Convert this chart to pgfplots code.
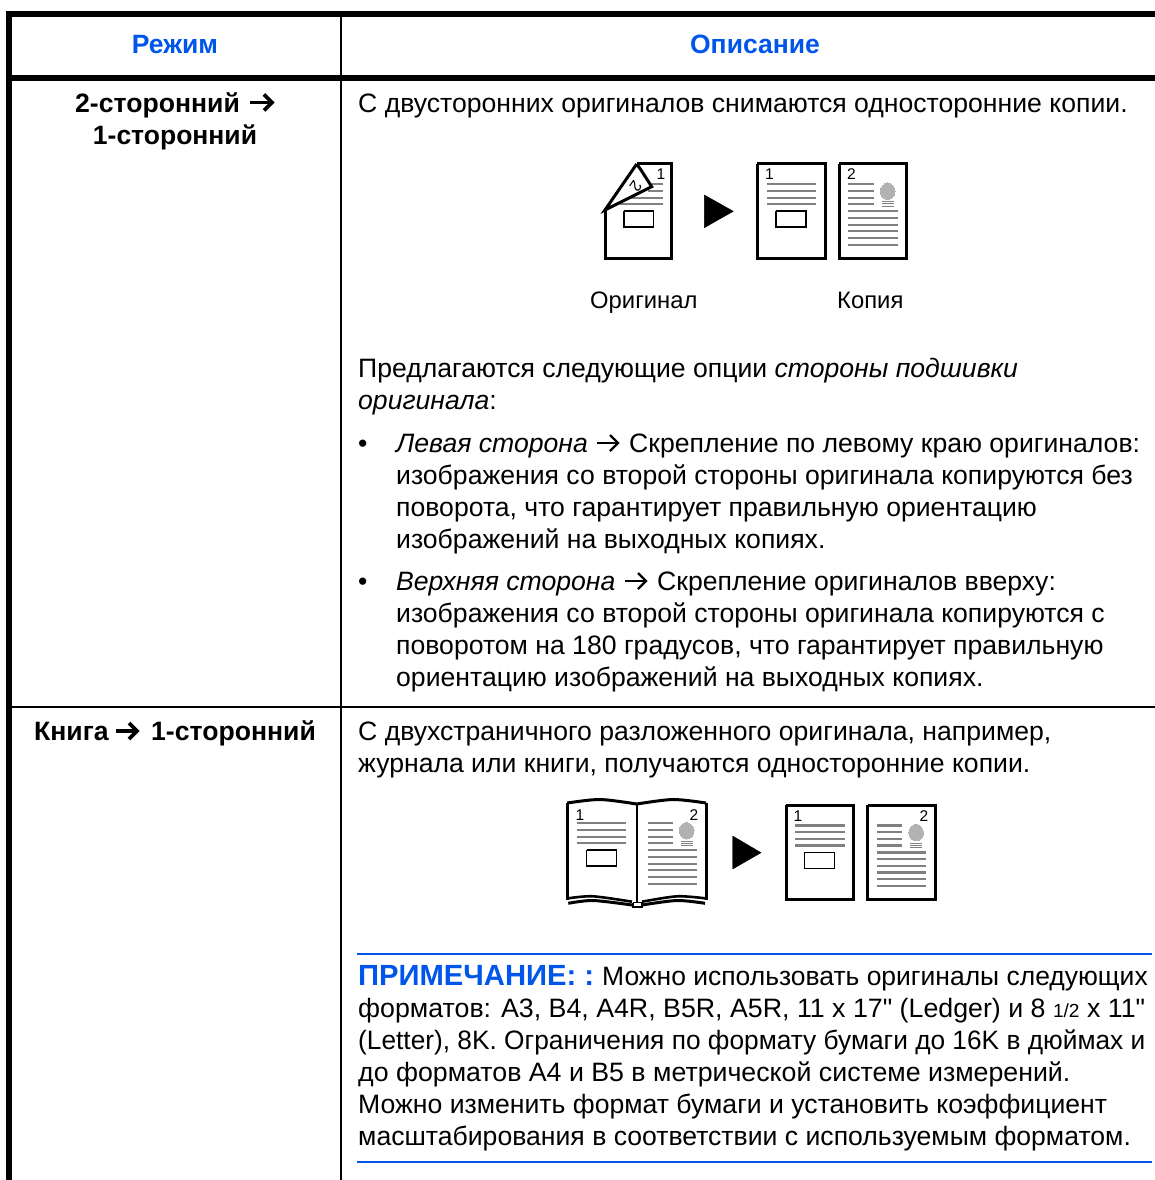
\documentclass[border=0pt]{standalone}
\usepackage{graphicx}
\usepackage{pgfplots}
\pgfplotsset{compat=1.18}
\usepackage{pgfplotstable}
\usepackage{fontspec}
\setmainfont{Liberation Sans}[Ligatures=TeXOff]
\definecolor{bl}{RGB}{0,85,235}
\definecolor{gl}{RGB}{128,128,128}
\definecolor{gf}{RGB}{178,178,178}
\newcommand{\Tx}[3]{\node[anchor=base west,inner sep=0pt,yshift=-0.7bp] at (axis cs:#1,#2) {\fontsize{26.6bp}{30bp}\selectfont #3};}
\newcommand{\Cx}[3]{\node[anchor=base,inner sep=0pt,yshift=-0.7bp] at (axis cs:#1,#2) {\fontsize{26.5bp}{30bp}\selectfont #3};}
\newcommand{\Sm}[3]{\node[anchor=base west,inner sep=0pt] at (axis cs:#1,#2) {\fontsize{23.8bp}{26bp}\selectfont #3};}
\newcommand{\Ic}[3]{\node[anchor=base west,inner sep=0pt] at (axis cs:#1,#2) {\fontsize{15.5bp}{18bp}\selectfont #3};}
\pgfplotstableread{
x y
766.7 184.3
816 184.3
nan nan
766.7 191
816 191
nan nan
766.7 197.7
816 197.7
nan nan
766.7 204.3
816 204.3
}\linesA
\pgfplotstableread{
x y
848.3 184.3
874 184.3
nan nan
848.3 191
874 191
nan nan
848.3 197.7
874 197.7
nan nan
848.3 204.3
874 204.3
nan nan
848.3 211.3
897.7 211.3
nan nan
848.3 218
897.7 218
nan nan
848.3 224.7
897.7 224.7
nan nan
848.3 231.3
897.7 231.3
nan nan
848.3 238
897.7 238
nan nan
848.3 245
897.7 245
}\linesB
\pgfplotstableread{
x y
881.7 201.7
894 201.7
nan nan
881.7 204
894 204
nan nan
881.7 206.3
894 206.3
}\linesC
\pgfplotstableread{
x y
895 191.3
894.5 188.2
892.9 185.7
890.5 183.8
887.7 183
884.9 183.8
882.5 185.7
880.9 188.2
880.4 191.3
880.9 194.4
882.5 196.9
884.9 198.8
887.7 199.6
890.5 198.8
892.9 196.9
894.5 194.4
}\ell
\pgfplotstableread{
x y
757.3 164
825 164
825 258.3
757.3 258.3
757.3 164
}\pageA
\pgfplotstableread{
x y
839.3 164
906.7 164
906.7 258.3
839.3 258.3
839.3 164
}\pageB
\pgfplotstableread{
x y
776 211
806 211
806 227
776 227
776 211
}\boxA
\newcommand{\grp}[3]{\addplot[gl,line width=2.3bp,unbounded coords=jump] table[x expr=\thisrow{x}+#2,y expr=\thisrow{y}+#3]{#1};}
\newcommand{\Arr}[5]{%
\addplot[black,line width=#5bp] coordinates {(#1,#3)(#2-1,#3)};
\addplot[black,line width=#5bp,miter limit=3] coordinates {(#2-#4,#3-#4)(#2,#3)(#2-#4,#3+#4)};}
\begin{document}
\begin{tikzpicture}
\begin{axis}[scale only axis,width=1155bp,height=1180bp,xmin=0,xmax=1155,ymin=0,ymax=1180,y dir=reverse,hide axis,clip=true]
\addplot[white,line width=0.1pt,forget plot] coordinates {(0,0)(1155,0)(1155,1180)(0,1180)(0,0)};
\addplot[black,line width=6bp] coordinates {(9,1180)(9,14)(1155,14)};
\addplot[black,line width=6bp] coordinates {(9,78)(1155,78)};
\addplot[black,line width=2bp] coordinates {(341,14)(341,1180)};
\addplot[black,line width=2bp] coordinates {(9,707)(1155,707)};
\addplot[bl,line width=2bp] coordinates {(357,954)(1152,954)};
\addplot[bl,line width=2bp] coordinates {(357,1162)(1152,1162)};
% icon 1: original
\addplot[black,line width=3bp] coordinates {(605,210)(605,258.3)(671.7,258.3)(671.7,164)(636.7,164)};
\addplot[gl,line width=2.3bp] coordinates {(651.7,184.3)(663,184.3)};
\addplot[gl,line width=2.3bp] coordinates {(648,191)(663,191)};
\addplot[gl,line width=2.3bp] coordinates {(631,197.7)(663,197.7)};
\addplot[gl,line width=2.3bp] coordinates {(620,204.3)(663,204.3)};
\addplot[black,line width=3bp,fill=white] coordinates {(636.7,164)(605,210)(651.7,186.7)(641,170)(636.7,164)};
\addplot[black,line width=1.2bp] coordinates {(624,211)(653.3,211)(653.3,227)(624,227)(624,211)};
\addplot[black,fill=black,line width=0.4bp] coordinates {(704.3,195)(733.3,211.3)(704.3,227.7)(704.3,195)};
\node[rotate=-125,inner sep=0pt] at (axis cs:636,186) {\fontsize{16bp}{18bp}\selectfont 2};
\Ic{656.5}{180}{1}
% copies row 1
\addplot[black,line width=3bp] table[x=x,y=y]{\pageA};
\grp{\linesA}{0}{0}
\addplot[black,line width=1.2bp] table[x=x,y=y]{\boxA};
\Ic{765}{180}{1}
\addplot[black,line width=3bp] table[x=x,y=y]{\pageB};
\grp{\linesB}{0}{0}
\addplot[gl,line width=1bp,unbounded coords=jump] table[x=x,y=y]{\linesC};
\addplot[gf,fill=gf,line width=0pt] table[x=x,y=y]{\ell} -- cycle;
\Ic{847}{180}{2}
% book
\addplot[black,line width=3bp] coordinates {(567.3,900)(567.3,803)};
\addplot[black,line width=3bp] coordinates {(706,900)(706,803)};
\addplot[black,line width=3bp,smooth] coordinates {(567.3,803)(600,799.5)(636.7,804)};
\addplot[black,line width=3bp,smooth] coordinates {(636.7,804)(673,799.5)(706,803)};
\addplot[black,line width=2bp] coordinates {(636.7,804)(636.7,902)};
\addplot[black,line width=2.6bp,smooth] coordinates {(568.3,898.3)(593,896.3)(632,901.7)};
\addplot[black,line width=2.6bp,smooth] coordinates {(642,901.7)(677,896.3)(705,898.3)};
\addplot[black,line width=3bp,smooth] coordinates {(568.3,903.3)(593,900.5)(632,905)};
\addplot[black,line width=3bp,smooth] coordinates {(642,905)(677,900.5)(705,903.3)};
\addplot[black,line width=1.6bp,fill=white] coordinates {(632.7,902.5)(641.7,902.5)(641.7,906.7)(632.7,906.7)(632.7,902.5)};
\addplot[black,line width=1.2bp] table[x expr=\thisrow{x}-189.3,y expr=\thisrow{y}+639]{\boxA};
\grp{\linesA}{-190}{639}
\grp{\linesB}{-200.6}{639}
\addplot[gl,line width=1bp,unbounded coords=jump] table[x expr=\thisrow{x}-201,y expr=\thisrow{y}+639.5]{\linesC};
\addplot[gf,fill=gf,line width=0pt] table[x expr=\thisrow{x}-201,y expr=\thisrow{y}+639.4]{\ell} -- cycle;
\Ic{575.5}{820}{1}
\Ic{689.5}{820}{2}
\addplot[black,fill=black,line width=0.4bp] coordinates {(732.7,836)(761,852.7)(732.7,869)(732.7,836)};
% copies row 2
\addplot[black,line width=3bp] table[x expr=\thisrow{x}+28.7,y expr=\thisrow{y}+641]{\pageA};
\grp{\linesA}{28.7}{641.3}
\addplot[black,line width=1.2bp] table[x expr=\thisrow{x}+28.7,y expr=\thisrow{y}+641.3]{\boxA};
\Ic{793.5}{821.5}{1}
\addplot[black,line width=3bp] table[x expr=\thisrow{x}+28.4,y expr=\thisrow{y}+641]{\pageB};
\grp{\linesB}{28.4}{641.3}
\addplot[gl,line width=1bp,unbounded coords=jump] table[x expr=\thisrow{x}+28.4,y expr=\thisrow{y}+641.3]{\linesC};
\addplot[gf,fill=gf,line width=0pt] table[x expr=\thisrow{x}+28.4,y expr=\thisrow{y}+641.3]{\ell} -- cycle;
\Ic{919.5}{821.5}{2}
% arrows
\Arr{250}{272}{102.5}{8}{3.6}
\Arr{116}{137}{731}{8}{3.6}
\Arr{597}{618}{443}{8}{2.3}
\Arr{625}{646}{581}{8}{2.3}
% header
\Cx{175}{53}{\bfseries\color{bl}Режим}
\Cx{755}{53}{\bfseries\color{bl}Описание}
\Tx{75}{112}{\bfseries 2-сторонний}
\Cx{175}{144}{\bfseries 1-сторонний}
\Tx{34}{740}{\bfseries Книга}
\Tx{151}{740}{\bfseries 1-сторонний}
% body
\Tx{358}{112}{С двусторонних оригиналов снимаются односторонние копии.}
\Sm{590}{308}{Оригинал}
\Sm{837}{308}{Копия}
\Tx{358}{377}{Предлагаются следующие опции \itshape стороны подшивки}
\Tx{358}{409}{\itshape оригинала\upshape :}
\Tx{358}{452}{•}
\Tx{396}{452}{\itshape Левая сторона}
\Tx{629}{452}{Скрепление по левому краю оригиналов:}
\Tx{396}{484}{изображения со второй стороны оригинала копируются без}
\Tx{396}{516}{поворота, что гарантирует правильную ориентацию}
\Tx{396}{548}{изображений на выходных копиях.}
\Tx{358}{590}{•}
\Tx{396}{590}{\itshape Верхняя сторона}
\Tx{657}{590}{Скрепление оригиналов вверху:}
\Tx{396}{622}{изображения со второй стороны оригинала копируются с}
\Tx{396}{654}{поворотом на 180 градусов, что гарантирует правильную}
\Tx{396}{686}{ориентацию изображений на выходных копиях.}
\Tx{358}{740}{С двухстраничного разложенного оригинала, например,}
\Tx{358}{772}{журнала или книги, получаются односторонние копии.}
\Tx{358}{985}{{\fontsize{29.2bp}{30bp}\selectfont\bfseries\color{bl}ПРИМЕЧАНИЕ: :}}
\Tx{602}{985}{\scalebox{0.995}[1]{Можно использовать оригиналы следующих}}
\Tx{358}{1017}{\scalebox{1.006}[1]{форматов: A3, B4, A4R, B5R, A5R, 11 x 17" (Ledger) и 8 {\fontsize{19bp}{20bp}\selectfont 1/2} x 11"}}
\Tx{358}{1049}{\scalebox{0.988}[1]{(Letter), 8K. Ограничения по формату бумаги до 16K в дюймах и}}
\Tx{358}{1081}{\scalebox{1.005}[1]{до форматов A4 и B5 в метрической системе измерений.}}
\Tx{358}{1113}{Можно изменить формат бумаги и установить коэффициент}
\Tx{358}{1145}{масштабирования в соответствии с используемым форматом.}
\end{axis}
\end{tikzpicture}
\end{document}
